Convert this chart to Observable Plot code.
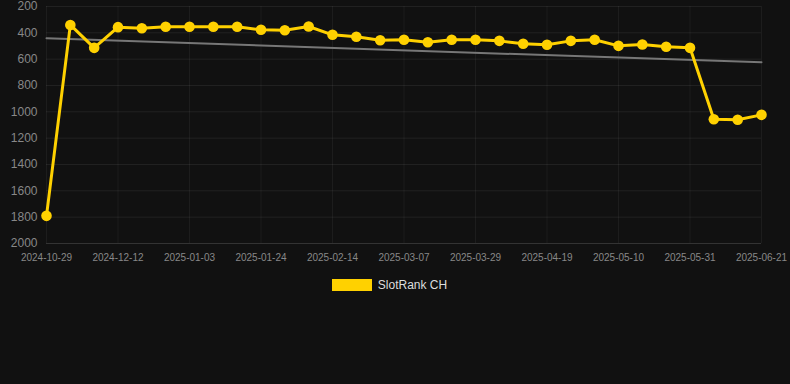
<!DOCTYPE html>
<html><head><meta charset="utf-8">
<script src="https://cdn.jsdelivr.net/npm/d3@7"></script>
<script src="https://cdn.jsdelivr.net/npm/@observablehq/plot@0.6"></script>
<style>
html,body{margin:0;background:#111;font-family:"Liberation Sans",Arial,sans-serif;}
#chart{height:270px;}
#legend{display:flex;justify-content:center;align-items:center;gap:6px;margin-top:8px;padding-right:11px;color:#ddd;font-size:12px;}
#legend .sw{width:40px;height:12px;background:#FFD100;display:inline-block;}
</style></head><body>
<div id="chart"></div>
<div id="legend"><span class="sw"></span><span>SlotRank CH</span></div>
<script>
const dates = ["2024-10-29","2024-11-21","2024-12-05","2024-12-12","2024-12-19","2024-12-26",
  "2025-01-03","2025-01-10","2025-01-17","2025-01-24","2025-01-31","2025-02-07",
  "2025-02-14","2025-02-21","2025-02-28","2025-03-07","2025-03-14","2025-03-21",
  "2025-03-29","2025-04-05","2025-04-12","2025-04-19","2025-04-26","2025-05-03",
  "2025-05-10","2025-05-17","2025-05-24","2025-05-31","2025-06-07","2025-06-14","2025-06-21"];
const ranks = [1790,340,514,357,365,354,354,354,354,377,380,352,415,430,456,453,471,453,
  453,461,483,491,461,453,499,489,506,514,1056,1060,1023];
const yTicks = [200,400,600,800,1000,1200,1400,1600,1800,2000];
const labelIdx = [0,3,6,9,12,15,18,21,24,27,30];
const seriesName = "SlotRank CH";
const data = dates.map((d,i)=>({i, date:d, rank:ranks[i]}));
const gold = "#FFD100";
const chart = Plot.plot({
  width:790, height:270, marginTop:6, marginLeft:46, marginRight:29, marginBottom:27,
  style:{background:"#111", color:"#888", fontFamily:"'Liberation Sans',Arial,sans-serif"},
  x:{type:"linear", domain:[0,30]},
  y:{domain:[200,2000], reverse:true},
  marks:[
    Plot.gridY(yTicks,{stroke:"#fff", strokeOpacity:0.07}),
    Plot.gridX(labelIdx,{stroke:"#fff", strokeOpacity:0.05}),
    Plot.ruleY([2000],{stroke:"#333"}),
    Plot.linearRegressionY(data,{x:"i", y:"rank", stroke:"#777", strokeWidth:2, ci:0}),
    Plot.line(data,{x:"i", y:"rank", stroke:gold, strokeWidth:3}),
    Plot.dot(data,{x:"i", y:"rank", fill:gold, r:5.3}),
    Plot.axisX(labelIdx,{tickFormat:i=>dates[i], tickSize:0, tickPadding:10, fontSize:10, fill:"#888", label:null}),
    Plot.axisY(yTicks,{tickFormat:d=>String(d), tickSize:0, tickPadding:9, fontSize:12, fill:"#888", label:null})
  ]
});
document.getElementById("chart").appendChild(chart);
document.querySelector("#legend span:last-child").textContent = seriesName;
</script>
</body></html>
